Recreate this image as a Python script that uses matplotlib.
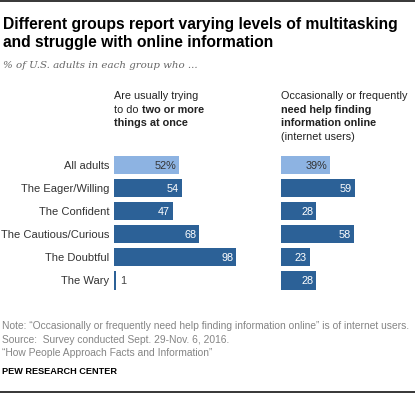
import numpy as np
import matplotlib
matplotlib.use('Agg')
import matplotlib.pyplot as plt

groups = ['All adults', 'The Eager/Willing', 'The Confident',
          'The Cautious/Curious', 'The Doubtful', 'The Wary']
multitask = [52, 54, 47, 68, 98, 1]
need_help = [39, 59, 28, 58, 23, 28]

title_lines = ['Different groups report varying levels of multitasking',
               'and struggle with online information']
subtitle = '% of U.S. adults in each group who ...'
notes = ['Note: \u201cOccasionally or frequently need help finding information online\u201d is of internet users.',
         'Source:  Survey conducted Sept. 29-Nov. 6, 2016.',
         '\u201cHow People Approach Facts and Information\u201d']

W, H = 415, 394
LIGHT = '#8db3e2'
DARK = '#2c6197'

plt.rcParams['font.family'] = ['Liberation Sans', 'DejaVu Sans']


def fx(px):
    return px / W


def fy(px):
    return 1 - px / H


fig = plt.figure(figsize=(W / 100, H / 100), dpi=100)
renderer = fig.canvas.get_renderer()


def fit(txt, target_px):
    # scale font so the rendered text is target_px wide
    w = txt.get_window_extent(renderer).width
    txt.set_fontsize(txt.get_fontsize() * target_px / w)
    return txt.get_fontsize()


# rules top and bottom
fig.add_artist(plt.Line2D([0, 1], [fy(0.8), fy(0.8)], color='black', lw=1.1))
fig.add_artist(plt.Line2D([0, 1], [fy(391.7), fy(391.7)], color='black', lw=1.1))

# title + subtitle
t1 = fig.text(fx(3), fy(29), title_lines[0], weight='bold', fontsize=11, color='black')
tsize = fit(t1, 395)
fig.text(fx(3), fy(46.5), title_lines[1], weight='bold', fontsize=tsize, color='black')
st = fig.text(fx(3), fy(68), subtitle, family='DejaVu Serif', style='italic', fontsize=7, color='#666666')
fit(st, 196)

# bar axes
row_top, row_step = 153.45, 23.1
n = len(groups)
ax_bottom = row_top + row_step * n
axL = fig.add_axes([fx(114.3), fy(ax_bottom), fx(124.5), (ax_bottom - row_top) / H])
axR = fig.add_axes([fx(281), fy(ax_bottom), fx(125), (ax_bottom - row_top) / H])

ypos = np.arange(n)
colors = [LIGHT] + [DARK] * (n - 1)

for ax, vals in [(axL, multitask), (axR, need_help)]:
    ax.barh(ypos, vals, height=0.78, color=colors)
    ax.set_xlim(0, 100)
    ax.set_ylim(n - 0.5, -0.5)
    ax.axis('off')
    for i, v in enumerate(vals):
        lab = f'{v}%' if i == 0 else str(v)
        if v < 10:
            ax.annotate(lab, xy=(v, i), xytext=(3.4, 0), textcoords='offset points',
                        ha='left', va='center_baseline', fontsize=7.8, color='#444444')
        else:
            ax.annotate(lab, xy=(v, i), xytext=(-1.9, 0), textcoords='offset points',
                        ha='right', va='center_baseline', fontsize=7.8,
                        color='#333333' if i == 0 else 'white')

for i, g in enumerate(groups):
    axL.annotate(g, xy=(0, i), xytext=(-3.8, 0), textcoords='offset points',
                 ha='right', va='center_baseline', fontsize=8, color='#333333')

# column headers
hs = 7.8
hcol = '#222222'
base = [99.3, 112.8, 126.3, 139.8]
fig.text(fx(114), fy(base[0]), 'Are usually trying', fontsize=hs, color=hcol)
t = fig.text(fx(114), fy(base[1]), 'to do', fontsize=hs, color=hcol)
axL.annotate('two or more', xy=(1, 0), xycoords=t, xytext=(2.2, 0), textcoords='offset points',
             ha='left', va='bottom', fontsize=hs, weight='bold', color=hcol)
fig.text(fx(114), fy(base[2]), 'things at once', fontsize=hs, weight='bold', color=hcol)

fig.text(fx(281), fy(base[0]), 'Occasionally or frequently', fontsize=hs, color=hcol)
fig.text(fx(281), fy(base[1]), 'need help finding', fontsize=hs, weight='bold', color=hcol)
fig.text(fx(281), fy(base[2]), 'information online', fontsize=hs, weight='bold', color=hcol)
fig.text(fx(281), fy(base[3]), '(internet users)', fontsize=hs, color=hcol)

# footer
nt = fig.text(fx(2), fy(329.3), notes[0], fontsize=6.8, color='#858585')
nsize = fit(nt, 407)
for k, line in enumerate(notes[1:], start=1):
    fig.text(fx(2), fy(329.3 + 13.4 * k), line, fontsize=nsize, color='#858585')
fig.text(fx(2), fy(374.3), 'PEW RESEARCH CENTER', fontsize=6.6, weight='bold', color='black')

fig.savefig('out.png', dpi=100)
